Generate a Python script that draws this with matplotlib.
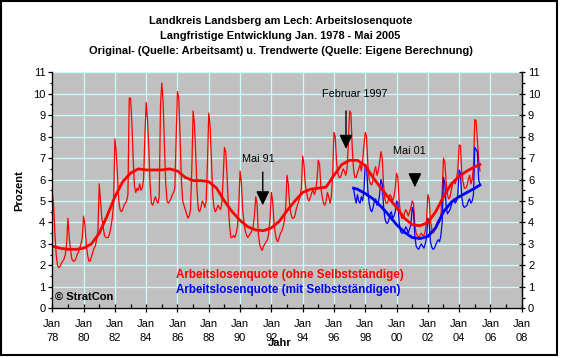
import numpy as np
import matplotlib
matplotlib.use('Agg')
import matplotlib.pyplot as plt
from matplotlib.patches import Rectangle
from matplotlib.ticker import MultipleLocator

plt.rcParams['font.family'] = ['Liberation Sans', 'DejaVu Sans']

# monthly values, Jan..Dec per year (red: ohne Selbststaendige)
red_start = 1978
red_monthly = [
    [5.4, 4.8, 3.5, 2.5, 2.0, 1.9, 1.95, 2.1, 2.2, 2.3, 2.5, 3.0],   # 1978
    [4.2, 3.3, 2.7, 2.3, 2.2, 2.2, 2.3, 2.5, 2.6, 2.8, 3.0, 3.3],    # 1979
    [4.3, 3.9, 3.0, 2.5, 2.2, 2.2, 2.4, 2.6, 2.8, 2.9, 3.2, 3.6],    # 1980
    [5.8, 5.0, 4.2, 3.8, 3.4, 3.3, 3.3, 3.3, 3.5, 3.8, 4.2, 4.9],    # 1981
    [7.9, 7.3, 6.2, 5.0, 4.6, 4.5, 4.6, 4.8, 4.9, 5.0, 5.3, 9.8],    # 1982
    [9.8, 8.7, 7.0, 5.7, 5.4, 5.6, 5.5, 5.8, 5.5, 5.6, 6.0, 8.0],    # 1983
    [9.6, 8.8, 7.5, 5.8, 4.9, 4.8, 5.0, 5.2, 5.0, 4.9, 5.2, 9.5],    # 1984
    [10.5, 9.6, 7.6, 5.8, 5.0, 4.9, 5.0, 5.1, 5.3, 5.4, 5.6, 8.0],   # 1985
    [10.1, 9.8, 8.0, 6.0, 5.0, 4.8, 4.6, 4.4, 4.2, 4.3, 4.6, 6.5],   # 1986
    [9.2, 8.6, 7.2, 5.5, 4.6, 4.5, 4.7, 5.0, 4.9, 4.7, 5.0, 6.8],    # 1987
    [9.1, 8.5, 7.0, 5.3, 4.7, 4.5, 4.6, 4.8, 4.7, 4.6, 4.9, 6.0],    # 1988
    [7.5, 7.3, 6.2, 4.8, 3.8, 3.3, 3.3, 3.4, 3.3, 3.5, 3.8, 4.8],    # 1989
    [6.4, 5.9, 4.6, 4.0, 3.6, 3.4, 3.3, 3.4, 3.5, 3.6, 3.8, 4.3],    # 1990
    [5.2, 4.9, 3.5, 3.0, 2.8, 2.7, 2.9, 3.0, 3.1, 3.2, 3.5, 4.2],    # 1991
    [5.4, 5.0, 4.0, 3.5, 3.2, 3.1, 3.3, 3.5, 3.6, 3.8, 4.1, 4.7],    # 1992
    [6.2, 5.8, 4.8, 4.4, 4.2, 4.2, 4.3, 4.6, 4.8, 5.0, 5.2, 5.6],    # 1993
    [7.1, 6.7, 5.8, 5.4, 5.1, 5.0, 5.2, 5.4, 5.5, 5.3, 5.5, 6.0],    # 1994
    [6.9, 6.7, 5.6, 5.2, 4.9, 4.8, 5.0, 5.4, 5.2, 4.9, 5.2, 6.2],    # 1995
    [8.2, 8.0, 6.8, 6.3, 6.1, 6.1, 6.3, 6.5, 6.4, 6.2, 6.5, 7.6],    # 1996
    [9.2, 9.1, 7.5, 6.5, 6.1, 6.1, 6.3, 6.5, 6.7, 6.4, 6.9, 7.6],    # 1997
    [8.2, 8.0, 6.7, 6.0, 5.8, 5.75, 6.0, 6.4, 6.6, 6.2, 6.4, 6.8],   # 1998
    [7.3, 7.0, 5.8, 5.1, 4.9, 4.9, 5.1, 5.3, 5.2, 5.0, 5.2, 5.6],    # 1999
    [6.3, 6.1, 5.0, 4.4, 4.2, 4.2, 4.4, 4.6, 4.5, 4.3, 4.5, 4.7],    # 2000
    [5.0, 4.9, 3.9, 3.5, 3.4, 3.3, 3.4, 3.5, 3.4, 3.4, 3.6, 4.1],    # 2001
    [5.3, 5.1, 4.1, 3.7, 3.5, 3.6, 3.8, 4.0, 4.1, 4.0, 4.3, 5.5],    # 2002
    [7.0, 6.8, 5.9, 5.3, 5.1, 5.2, 5.5, 5.8, 5.9, 5.8, 6.0, 6.5],    # 2003
    [7.6, 7.6, 6.3, 5.9, 5.6, 5.6, 5.7, 6.0, 6.2, 5.8, 6.0, 6.6],    # 2004
    [8.8, 8.75, 7.8, 6.9, 6.4],                                      # 2005
]

# blue: mit Selbststaendigen, starts April 1997
blue_start = 1997 + 3 / 12
blue_monthly = [
    [5.6, 5.2, 4.9, 5.3, 5.0, 4.9, 5.2, 5.0, 5.5],                   # 1997 Apr-Dec
    [6.7, 6.6, 5.5, 4.9, 4.6, 4.5, 4.7, 5.0, 5.1, 4.8, 4.9, 5.3],    # 1998
    [6.0, 5.8, 4.8, 4.2, 4.0, 3.95, 4.1, 4.4, 4.5, 4.2, 4.3, 4.5],   # 1999
    [5.0, 4.9, 4.0, 3.6, 3.5, 3.5, 3.6, 3.8, 3.7, 3.5, 3.7, 3.9],    # 2000
    [4.7, 4.5, 3.4, 2.9, 2.8, 2.75, 2.9, 3.0, 2.9, 2.8, 3.0, 3.3],   # 2001
    [4.2, 4.0, 3.1, 2.85, 2.75, 2.8, 2.95, 3.1, 3.2, 3.1, 3.4, 4.0], # 2002
    [6.1, 5.8, 4.8, 4.4, 4.5, 4.6, 4.8, 5.0, 5.1, 4.9, 5.0, 5.3],    # 2003
    [6.45, 6.3, 5.2, 4.8, 4.7, 4.75, 4.8, 5.0, 5.1, 4.9, 5.0, 5.3],  # 2004
    [7.5, 7.4, 7.3, 6.0, 5.75],                                      # 2005
]

# trend values (half-yearly)
red_trend_x = [1978.0, 1978.5, 1979.0, 1979.5, 1980.0, 1980.5, 1981.0, 1981.5,
               1982.0, 1982.5, 1983.0, 1983.5, 1984.0, 1984.5, 1985.0, 1985.5,
               1986.0, 1986.5, 1987.0, 1987.5, 1988.0, 1988.5, 1989.0, 1989.5,
               1990.0, 1990.5, 1991.0, 1991.5, 1992.0, 1992.5, 1993.0, 1993.5,
               1994.0, 1994.5, 1995.0, 1995.5, 1996.0, 1996.5, 1997.0, 1997.5,
               1998.0, 1998.5, 1999.0, 1999.5, 2000.0, 2000.5, 2001.0, 2001.5,
               2002.0, 2002.5, 2003.0, 2003.5, 2004.0, 2004.5, 2005.0, 2005.33]
red_trend = [2.9, 2.8, 2.75, 2.75, 2.8, 3.0, 3.5, 4.3,
             5.2, 5.9, 6.3, 6.5, 6.45, 6.45, 6.45, 6.5,
             6.4, 6.1, 5.95, 5.95, 5.9, 5.6, 5.0, 4.5,
             4.1, 3.8, 3.65, 3.62, 3.75, 4.05, 4.55, 5.0,
             5.4, 5.55, 5.6, 5.65, 6.2, 6.7, 6.9, 6.9,
             6.65, 6.1, 5.6, 5.15, 4.7, 4.2, 3.9, 3.85,
             4.0, 4.5, 5.2, 5.8, 6.15, 6.4, 6.6, 6.7]

blue_trend_x = [1997.25, 1997.5, 1998.0, 1998.5, 1999.0, 1999.5, 2000.0, 2000.5,
                2001.0, 2001.5, 2002.0, 2002.5, 2003.0, 2003.5, 2004.0, 2004.5,
                2005.0, 2005.33]
blue_trend = [5.6, 5.55, 5.35, 5.1, 4.75, 4.35, 3.9, 3.55,
              3.3, 3.25, 3.35, 3.75, 4.5, 4.95, 5.2, 5.4,
              5.6, 5.75]

tick_years = list(range(1978, 2009, 2))
tick_labels = ['Jan\n%02d' % (y % 100) for y in tick_years]


def flatten(rows, start):
    vals = [v for row in rows for v in row]
    xs = start + np.arange(len(vals)) / 12.0
    return xs, vals


red_x, red_y = flatten(red_monthly, red_start)
blue_x, blue_y = flatten(blue_monthly, blue_start)

fig = plt.figure(figsize=(5.61, 3.58), dpi=100)
ax = fig.add_axes([0.0932, 0.1388, 0.8368, 0.6592])
ax.set_facecolor('#c0c0c0')

ax.plot(red_x, red_y, color='#ff0000', lw=0.9)
ax.plot(blue_x, blue_y, color='#0000ff', lw=0.9)
ax.plot(red_trend_x, red_trend, color='#ff0000', lw=2.0)
ax.plot(blue_trend_x, blue_trend, color='#0000ff', lw=2.0)

ax.set_xlim(1978, 2008)
ax.set_ylim(0, 11)
ax.set_xticks(tick_years)
ax.set_xticklabels(tick_labels, fontsize=8, linespacing=1.45)
ax.xaxis.set_minor_locator(MultipleLocator(1))
ax.yaxis.set_major_locator(MultipleLocator(1))
ax.yaxis.set_minor_locator(MultipleLocator(0.5))
ax.grid(True, which='major', color='#c8ffff', lw=0.9)
ax.set_axisbelow(True)
ax.tick_params(axis='x', which='major', direction='inout', length=6, width=0.9, pad=5)
ax.tick_params(axis='x', which='minor', direction='in', length=3, width=0.9)
ax.tick_params(axis='y', which='major', direction='out', length=3, width=0.9, labelsize=8, pad=2)
ax.tick_params(axis='y', which='minor', direction='out', length=1.5, width=0.9)
ax.spines['top'].set_visible(False)
for s in ['left', 'bottom', 'right']:
    ax.spines[s].set_linewidth(0.9)

ax2 = ax.twinx()
ax2.set_ylim(0, 11)
ax2.yaxis.set_major_locator(MultipleLocator(1))
ax2.yaxis.set_minor_locator(MultipleLocator(0.5))
ax2.tick_params(axis='y', which='major', direction='inout', length=5, width=0.9, labelsize=8, pad=2)
ax2.tick_params(axis='y', which='minor', direction='out', length=2.5, width=0.9)
ax2.spines['top'].set_visible(False)
ax2.spines['right'].set_linewidth(0.9)

ax.set_ylabel('Prozent', fontsize=8, fontweight='bold', labelpad=6)
ax.set_xlabel('Jahr', fontsize=8, fontweight='bold')
ax.xaxis.set_label_coords(0.485, -0.125)

fig.text(0.5, 0.942, 'Landkreis Landsberg am Lech: Arbeitslosenquote', ha='center', va='center',
         fontsize=7.9, fontweight='bold')
fig.text(0.5, 0.900, 'Langfristige Entwicklung Jan. 1978 - Mai 2005', ha='center', va='center',
         fontsize=7.9, fontweight='bold')
fig.text(0.5, 0.857, 'Original- (Quelle: Arbeitsamt) u. Trendwerte (Quelle: Eigene Berechnung)',
         ha='center', va='center', fontsize=7.9, fontweight='bold')

ax.text(1985.9, 1.55, 'Arbeitslosenquote (ohne Selbstständige)', color='#ff0000',
        fontsize=8.4, fontweight='bold', va='center')
ax.text(1985.9, 0.85, 'Arbeitslosenquote (mit Selbstständigen)', color='#0000ff',
        fontsize=8.4, fontweight='bold', va='center')
ax.text(1978.2, 0.54, '© StratCon', color='black', fontsize=8, fontweight='bold', va='center')

arrow = dict(arrowstyle='-|>,head_length=0.85,head_width=0.4', color='black', lw=1,
             shrinkA=0, shrinkB=0)
ax.annotate('', xy=(1991.45, 4.8), xytext=(1991.45, 6.35), arrowprops=arrow, fontsize=10)
ax.annotate('', xy=(1996.77, 7.43), xytext=(1996.77, 9.2), arrowprops=arrow, fontsize=10)
ax.annotate('', xy=(2001.17, 5.64), xytext=(2001.17, 6.26), arrowprops=arrow, fontsize=10)
ax.text(1991.14, 6.97, 'Mai 91', fontsize=7.8, ha='center', va='center')
ax.text(1997.35, 10.0, 'Februar 1997', fontsize=7.8, ha='center', va='center')
ax.text(2000.83, 7.33, 'Mai 01', fontsize=7.8, ha='center', va='center')

fig.patches.append(Rectangle((0.5 / 561, 3.5 / 358), 556.5 / 561, 354 / 358,
                             transform=fig.transFigure, fill=False, edgecolor='black', lw=1.5))

fig.savefig('out.png', dpi=100)
